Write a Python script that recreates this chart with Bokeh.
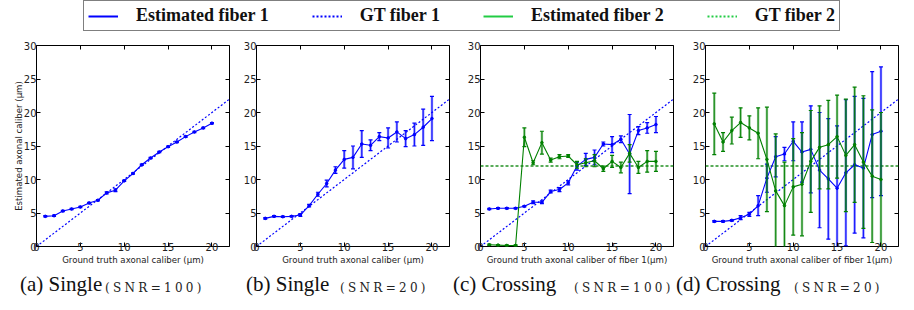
from bokeh.plotting import figure
from bokeh.layouts import column, row
from bokeh.models import (Legend, LegendItem, LinearAxis, Range1d,
                          FixedTicker, ColumnDataSource, Div)
from bokeh.embed import file_html
from bokeh.resources import INLINE

# ---------------- data ----------------
CALIBER = [1, 2, 3, 4, 5, 6, 7, 8, 9, 10, 11, 12, 13, 14, 15, 16, 17, 18, 19, 20]
GT_X = [0, 22]
GT_FIBER2 = 12

A_EST = [4.5, 4.6, 5.3, 5.6, 5.9, 6.5, 6.9, 8.0, 8.4, 9.8, 10.9, 12.2, 13.2, 14.1, 14.9, 15.6, 16.4, 17.1, 17.7, 18.4]
A_ERR = [0.1, 0.1, 0.1, 0.1, 0.1, 0.1, 0.1, 0.15, 0.2, 0.1, 0.1, 0.1, 0.1, 0.1, 0.1, 0.1, 0.1, 0.1, 0.1, 0.1]

B_EST = [4.2, 4.5, 4.45, 4.5, 4.7, 6.1, 7.8, 9.4, 11.4, 13.0, 13.3, 15.3, 15.1, 16.4, 16.2, 17.1, 16.1, 16.7, 17.8, 19.1]
B_ERR = [0.1, 0.1, 0.1, 0.1, 0.2, 0.2, 0.3, 0.5, 0.5, 1.3, 1.7, 2.0, 0.8, 0.6, 1.5, 1.5, 1.2, 1.7, 2.7, 3.3]

C_EST1 = [5.6, 5.7, 5.7, 5.7, 6.0, 6.6, 6.6, 8.2, 8.5, 9.5, 12.0, 13.0, 13.3, 15.3, 15.2, 16.0, 13.8, 17.3, 17.7, 18.2]
C_ERR1 = [0.1, 0.1, 0.1, 0.1, 0.1, 0.2, 0.2, 0.2, 0.3, 0.3, 0.6, 0.9, 1.1, 0.3, 1.2, 0.5, 5.9, 0.6, 0.8, 1.2]
C_EST2 = [0.25, 0.2, 0.15, 0.15, 16.3, 12.5, 15.5, 12.9, 13.4, 13.5, 12.2, 12.5, 12.8, 11.6, 12.7, 11.8, 13.9, 11.8, 12.7, 12.7]
C_ERR2 = [0.1, 0.1, 0.1, 0.1, 1.4, 0.3, 1.7, 0.3, 0.3, 0.2, 0.5, 0.6, 0.9, 0.4, 0.9, 0.8, 1.3, 0.9, 1.6, 1.5]

D_EST1 = [3.75, 3.75, 3.9, 4.3, 4.8, 6.1, 10.2, 13.4, 13.8, 15.7, 14.1, 14.5, 11.4, 10.1, 8.7, 11.0, 12.2, 11.7, 16.7, 17.2]
D_ERR1 = [0.1, 0.1, 0.1, 0.3, 0.3, 1.5, 2.1, 3.0, 1.0, 2.9, 4.5, 6.5, 8.6, 9.0, 9.3, 10.9, 10.2, 10.4, 9.4, 9.6]
D_EST2 = [18.3, 15.6, 17.3, 18.5, 17.7, 16.9, 13.0, 8.3, 6.1, 8.9, 9.3, 12.7, 14.8, 15.2, 16.4, 13.6, 15.2, 12.6, 10.5, 10.0]
D_ERR2 = [4.6, 1.4, 2.0, 2.2, 1.8, 3.8, 7.8, 8.5, 6.5, 7.2, 7.7, 7.6, 6.2, 6.6, 6.2, 8.4, 8.6, 9.9, 9.9, 10.0]

X_TICKS = [0, 5, 10, 15, 20]
Y_TICKS = [0, 5, 10, 15, 20, 25, 30]

LEGEND_LABELS = ["Estimated fiber 1", "GT fiber 1", "Estimated fiber 2", "GT fiber 2"]
XLABEL_SINGLE = "Ground truth axonal caliber (\u03bcm)"
XLABEL_CROSS = "Ground truth axonal caliber of fiber 1(\u03bcm)"
YLABEL = "Estimated axonal caliber (\u03bcm)"
CAPTIONS = [("(a) Single", "(SNR=100)"), ("(b) Single", "(SNR=20)"),
            ("(c) Crossing", "(SNR=100)"), ("(d) Crossing", "(SNR=20)")]

BLUE = "#0000ff"
GREEN = "#008000"
LEG_GREEN = "#22cc44"

FW, FH = 193, 201
XMAX, YMAX = 22, 30


def add_series(p, est, err, color):
    lo = [e - d for e, d in zip(est, err)]
    hi = [e + d for e, d in zip(est, err)]
    src = ColumnDataSource(dict(x=CALIBER, y=est, lo=lo, hi=hi))
    p.segment(x0="x", y0="lo", x1="x", y1="hi", source=src, line_color=color,
              line_width=2.4, line_alpha=0.45)
    p.segment(x0="x", y0="lo", x1="x", y1="hi", source=src, line_color=color,
              line_width=1, line_alpha=0.9)
    p.scatter(x="x", y="lo", source=src, marker="dash", size=4, line_color=color, line_width=1.2)
    p.scatter(x="x", y="hi", source=src, marker="dash", size=4, line_color=color, line_width=1.2)
    p.line(x="x", y="y", source=src, line_color=color, line_width=1.1)
    p.scatter(x="x", y="y", source=src, marker="circle", size=2.6, fill_color=color,
              line_color=color)


def make_panel(bl, br, xlabel, ylabel=None):
    p = figure(frame_width=FW, frame_height=FH, min_border_left=bl, min_border_right=br,
               min_border_top=10, min_border_bottom=22,
               x_range=Range1d(0, XMAX), y_range=Range1d(0, YMAX),
               output_backend="svg", toolbar_location=None)
    p.grid.visible = False
    p.outline_line_color = "black"
    p.outline_line_width = 1
    p.background_fill_color = "white"
    p.border_fill_color = "white"
    for ax, ticks in ((p.xaxis[0], X_TICKS), (p.yaxis[0], Y_TICKS)):
        ax.ticker = FixedTicker(ticks=ticks)
        ax.major_tick_in = 4
        ax.major_tick_out = 0
        ax.minor_tick_line_color = None
        ax.axis_line_color = None
        ax.major_tick_line_color = "black"
        ax.major_label_text_font = "DejaVu Sans"
        ax.major_label_text_font_size = "10px"
        ax.major_label_text_color = "#222222"
        ax.axis_label_text_font = "DejaVu Sans"
        ax.axis_label_text_font_size = "8.6px"
        ax.axis_label_text_font_style = "normal"
        ax.axis_label_text_color = "#222222"
    p.xaxis[0].major_label_standoff = -4
    p.xaxis[0].axis_label = xlabel
    p.xaxis[0].axis_label_standoff = 1
    p.yaxis[0].major_label_standoff = 0
    if ylabel:
        p.yaxis[0].axis_label = ylabel
        p.yaxis[0].axis_label_standoff = -3
    for loc, ticks in (("above", X_TICKS), ("right", Y_TICKS)):
        ax = LinearAxis(ticker=FixedTicker(ticks=ticks), major_tick_in=4, major_tick_out=0,
                        minor_tick_line_color=None, axis_line_color=None,
                        major_label_text_font_size="1px", major_label_text_color=None,
                        major_label_standoff=0)
        p.add_layout(ax, loc)
    # ground truth fiber 1
    p.line(GT_X, GT_X, line_color=BLUE, line_dash="2 2", line_width=1.2)
    return p


pa = make_panel(36, 11, XLABEL_SINGLE, ylabel=YLABEL)
add_series(pa, A_EST, A_ERR, BLUE)

pb = make_panel(14, 14, XLABEL_SINGLE)
add_series(pb, B_EST, B_ERR, BLUE)

pc = make_panel(17, 15, XLABEL_CROSS)
pc.line(GT_X, [GT_FIBER2, GT_FIBER2], line_color=GREEN, line_dash="3 2", line_width=2, line_alpha=0.65)
add_series(pc, C_EST1, C_ERR1, BLUE)
add_series(pc, C_EST2, C_ERR2, GREEN)

pd_ = make_panel(17, 2, XLABEL_CROSS)
pd_.line(GT_X, [GT_FIBER2, GT_FIBER2], line_color=GREEN, line_dash="3 2", line_width=2, line_alpha=0.65)
add_series(pd_, D_EST1, D_ERR1, BLUE)
add_series(pd_, D_EST2, D_ERR2, GREEN)

# ---------------- legend strip ----------------
leg = figure(width=898, height=35, x_range=Range1d(0, 1), y_range=Range1d(0, 1),
             output_backend="svg", toolbar_location=None, min_border=0)
leg.axis.visible = False
leg.grid.visible = False
leg.outline_line_color = None
OFF = [-5, -4]
r1 = leg.line(x=OFF, y=OFF, line_color=BLUE, line_width=2)
r2 = leg.line(x=OFF, y=OFF, line_color=BLUE, line_width=2, line_dash="2 2")
r3 = leg.line(x=OFF, y=OFF, line_color=LEG_GREEN, line_width=2)
r4 = leg.line(x=OFF, y=OFF, line_color=LEG_GREEN, line_width=2, line_dash="2 2")
legend = Legend(items=[LegendItem(label=LEGEND_LABELS[0], renderers=[r1]),
                       LegendItem(label=LEGEND_LABELS[1], renderers=[r2]),
                       LegendItem(label=LEGEND_LABELS[2], renderers=[r3]),
                       LegendItem(label=LEGEND_LABELS[3], renderers=[r4])],
                orientation="horizontal", location=(83, 4),
                border_line_color="black", border_line_width=1,
                background_fill_alpha=0, padding=4, spacing=43, glyph_width=30,
                label_standoff=18, margin=0,
                label_text_font="Liberation Serif", label_text_font_style="bold",
                label_text_font_size="18px", label_text_color="#111111")
leg.add_layout(legend, "center")

# ---------------- captions ----------------
CAP_MAIN_X = [20, 246, 453, 676]
CAP_SNR_X = [105, 340, 574, 794]
spans = []
for (main, snr), mx, sx in zip(CAPTIONS, CAP_MAIN_X, CAP_SNR_X):
    spans.append(
        f'<span style="position:absolute;left:{mx}px;top:6px;font-family:\'Liberation Serif\';'
        f'font-size:21px;line-height:21px;color:#111;white-space:nowrap">{main}</span>')
    spans.append(
        f'<span style="position:absolute;left:{sx}px;top:14px;font-family:\'DejaVu Serif\';'
        f'font-size:12px;line-height:12px;letter-spacing:3.3px;color:#222;white-space:nowrap">{snr}</span>')
cap_html = ('<div style="position:relative;width:898px;height:26px;overflow:visible">'
            + "".join(spans) + "</div>")
cap = Div(text=cap_html, width=898, height=26, margin=0)

layout = column(leg, row(pa, pb, pc, pd_, spacing=0), cap, spacing=0)

open("out.html", "w").write(file_html(layout, INLINE))
